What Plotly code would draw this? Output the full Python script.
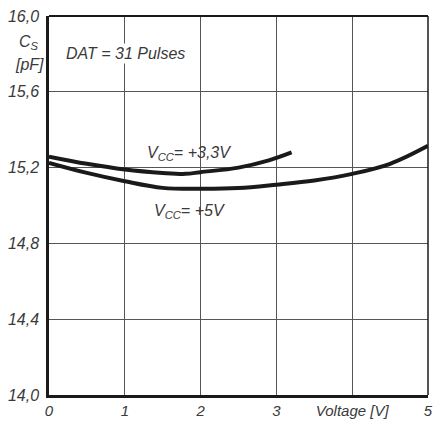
import plotly.graph_objects as go

# Data
v33_x = [0, 0.5, 1.0, 1.5, 1.8, 2.0, 2.5, 2.9, 3.2]
v33_y = [15.258, 15.22, 15.19, 15.172, 15.167, 15.176, 15.20, 15.238, 15.28]
v5_x = [0, 0.5, 1.0, 1.5, 2.0, 2.5, 3.0, 3.5, 4.0, 4.5, 5.0]
v5_y = [15.225, 15.172, 15.128, 15.093, 15.088, 15.092, 15.11, 15.132, 15.167, 15.22, 15.315]

x_ticks = [0, 1, 2, 3, 4, 5]
x_ticktext = ["0", "1", "2", "3", "Voltage [V]", "5"]
y_ticks = [14.0, 14.4, 14.8, 15.2, 15.6, 16.0]
y_ticktext = ["14,0", "14,4", "14,8", "15,2", "15,6", "16,0"]

FONT = "Liberation Sans Narrow, Liberation Sans, Arial, sans-serif"
INK = "#1a1a1a"
TXT = "#3a3a3a"

fig = go.Figure()
fig.add_trace(go.Scatter(x=v33_x, y=v33_y, mode="lines",
                         line=dict(color=INK, width=4, shape="spline"),
                         showlegend=False, hoverinfo="skip"))
fig.add_trace(go.Scatter(x=v5_x, y=v5_y, mode="lines",
                         line=dict(color=INK, width=4, shape="spline"),
                         showlegend=False, hoverinfo="skip"))

tfont = dict(family=FONT, size=16, color=TXT, style="italic")
xfont = dict(family=FONT, size=15, color=TXT, style="italic")

fig.update_layout(
    width=433, height=421,
    margin=dict(l=49, r=5, t=16, b=26, autoexpand=False),
    paper_bgcolor="white", plot_bgcolor="white",
    font=tfont,
    xaxis=dict(range=[0, 5], tickvals=x_ticks, ticktext=x_ticktext,
               showgrid=True, gridcolor="#555555", gridwidth=1,
               showline=True, linecolor=INK, linewidth=2.5,
               ticks="", zeroline=False, ticklabelstandoff=0,
               automargin=False, tickfont=xfont),
    yaxis=dict(range=[14.0, 16.0], tickvals=y_ticks, ticktext=y_ticktext,
               showgrid=True, gridcolor="#555555", gridwidth=1,
               showline=True, linecolor=INK, linewidth=2.5,
               ticks="", zeroline=False, ticklabelstandoff=4,
               automargin=False, tickfont=tfont),
)

# top and right frame lines
fig.add_shape(type="line", xref="paper", yref="paper", x0=0, x1=1, y0=1, y1=1,
              line=dict(color=INK, width=2))
fig.add_shape(type="line", xref="paper", yref="paper", x0=1, x1=1, y0=0, y1=1,
              line=dict(color=INK, width=1.5))

fig.add_annotation(x=0.2, y=15.80, xref="x", yref="y", text="DAT = 31 Pulses",
                   showarrow=False, xanchor="left", font=tfont, bgcolor="white")
fig.add_annotation(x=1.26, y=15.272, xref="x", yref="y", text="V<sub>CC</sub>= +3,3V",
                   showarrow=False, xanchor="left", font=tfont)
fig.add_annotation(x=1.36, y=14.967, xref="x", yref="y", text="V<sub>CC</sub>= +5V",
                   showarrow=False, xanchor="left", font=tfont)
fig.add_annotation(x=-0.022, y=0.931, xref="paper", yref="paper", text="C<sub>S</sub>",
                   showarrow=False, xanchor="right", yanchor="middle", font=tfont)
fig.add_annotation(x=-0.008, y=0.873, xref="paper", yref="paper", text="[pF]",
                   showarrow=False, xanchor="right", yanchor="middle", font=tfont)

fig.write_html("out.html", config={"displayModeBar": False},
               post_script="document.body.style.margin='0';")
